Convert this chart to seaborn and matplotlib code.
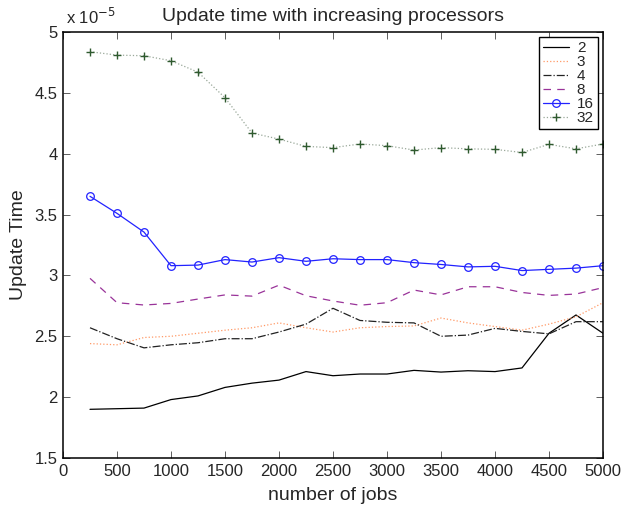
import matplotlib
matplotlib.use("Agg")
import matplotlib.pyplot as plt
import seaborn as sns
import numpy as np
from matplotlib.ticker import FuncFormatter, MultipleLocator

jobs = [250, 500, 750, 1000, 1250, 1500, 1750, 2000, 2250, 2500,
        2750, 3000, 3250, 3500, 3750, 4000, 4250, 4500, 4750, 5000]

# values in units of 1e-5
p2 = [1.90, 1.905, 1.91, 1.98, 2.01, 2.08, 2.115, 2.14, 2.21, 2.176,
      2.19, 2.19, 2.22, 2.206, 2.217, 2.21, 2.24, 2.525, 2.675, 2.525]
p3 = [2.44, 2.43, 2.49, 2.50, 2.525, 2.55, 2.57, 2.61, 2.57, 2.535,
      2.57, 2.58, 2.585, 2.65, 2.61, 2.58, 2.55, 2.60, 2.66, 2.776]
p4 = [2.57, 2.48, 2.405, 2.43, 2.447, 2.48, 2.48, 2.535, 2.60, 2.73,
      2.63, 2.615, 2.61, 2.50, 2.51, 2.565, 2.54, 2.52, 2.62, 2.62]
p8 = [2.976, 2.776, 2.757, 2.77, 2.806, 2.84, 2.83, 2.92, 2.833, 2.79,
      2.755, 2.776, 2.88, 2.84, 2.907, 2.907, 2.86, 2.836, 2.847, 2.90]
p16 = [3.65, 3.51, 3.356, 3.08, 3.085, 3.13, 3.11, 3.146, 3.116, 3.137,
       3.13, 3.13, 3.105, 3.09, 3.07, 3.075, 3.04, 3.05, 3.06, 3.08]
p32 = [4.838, 4.81, 4.805, 4.764, 4.67, 4.46, 4.17, 4.12, 4.06, 4.05,
       4.08, 4.066, 4.03, 4.05, 4.04, 4.036, 4.01, 4.077, 4.04, 4.08]

labels = ["2", "3", "4", "8", "16", "32"]
scale = 1e-5

sns.set_style("ticks")
plt.rcParams["font.family"] = ["Liberation Sans", "DejaVu Sans"]

fig = plt.figure(figsize=(6.24, 5.13), dpi=100)
ax = fig.add_axes([63/624, 1-458/513, (603-63)/624, (458-32)/513])

x = np.array(jobs)
def s(v):
    return np.array(v) * scale

sns.lineplot(x=x, y=s(p2), ax=ax, color="black", linestyle="-", lw=0.9,
             label=labels[0])
sns.lineplot(x=x, y=s(p3), ax=ax, color="#ff9966", linestyle=":", lw=0.9,
             label=labels[1])
sns.lineplot(x=x, y=s(p4), ax=ax, color="#222222", linestyle="-.", lw=0.9,
             label=labels[2])
sns.lineplot(x=x, y=s(p8), ax=ax, color="#993399", linestyle=(0, (6, 5)), lw=0.9,
             label=labels[3])
sns.lineplot(x=x, y=s(p16), ax=ax, color="#2222ff", linestyle="-", lw=0.9,
             marker="o", markersize=5.5, markerfacecolor="none",
             markeredgecolor="#2222ff", markeredgewidth=0.9, label=labels[4])
sns.lineplot(x=x, y=s(p32), ax=ax, color="#99a899", linestyle=":", lw=0.9,
             marker="+", markersize=6, markeredgecolor="#2f5a2f",
             markeredgewidth=1.0, label=labels[5])

ax.set_xlim(0, 5000)
ax.set_ylim(1.5e-5, 5e-5)
ax.xaxis.set_major_locator(MultipleLocator(500))
ax.yaxis.set_major_locator(MultipleLocator(0.5e-5))
ax.yaxis.set_major_formatter(FuncFormatter(lambda v, p: "%g" % round(v / scale, 3)))
ax.xaxis.set_major_formatter(FuncFormatter(lambda v, p: "%g" % v))
ax.tick_params(direction="in", top=True, right=True, length=5, width=0.6,
               labelsize=12, pad=4, color="#444444")
for sp in ax.spines.values():
    sp.set_visible(True)
    sp.set_linewidth(1.1)
    sp.set_color("black")

ax.set_title("Update time with increasing processors", fontsize=14, pad=8)
ax.set_xlabel("number of jobs", fontsize=14, labelpad=6)
ax.set_ylabel("Update Time", fontsize=14, labelpad=5)
ax.text(0.005, 1.012, "x 10$^{-5}$", transform=ax.transAxes, fontsize=12,
        ha="left", va="bottom")

leg = ax.legend(loc="upper right", fontsize=11, frameon=True, fancybox=False,
                handlelength=1.7, handletextpad=0.5, borderpad=0.25,
                labelspacing=0.0, borderaxespad=0.35)
leg.get_frame().set_edgecolor("black")
leg.get_frame().set_linewidth(1.0)
leg.get_frame().set_alpha(1)

fig.savefig("out.png", dpi=100)
